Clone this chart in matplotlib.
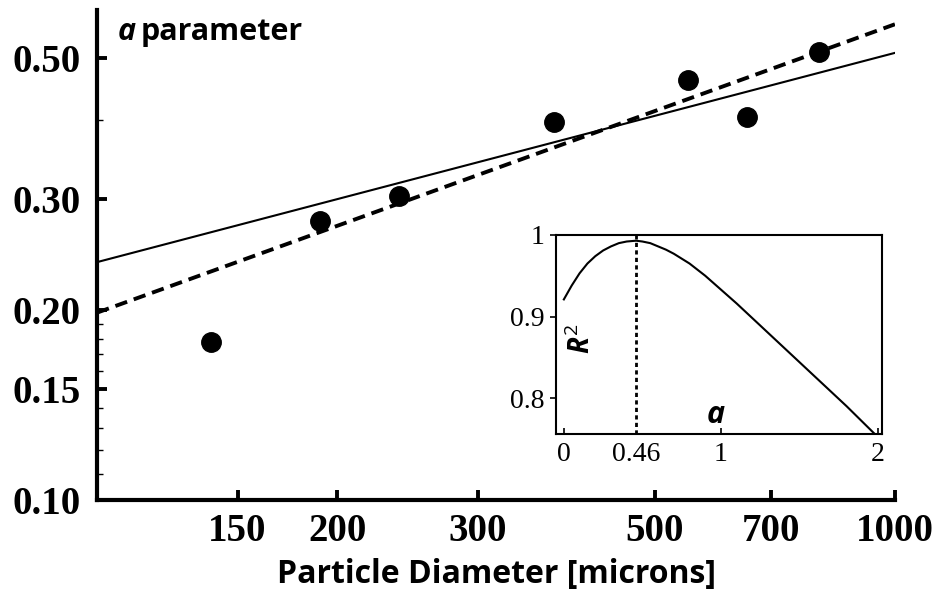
import matplotlib.pyplot as plt

# measured points (particle diameter vs a parameter)
diameter = [139, 190, 239, 374, 550, 652, 803]
a_param = [0.178, 0.276, 0.303, 0.396, 0.462, 0.404, 0.512]

# fitted lines, read at the two ends of the axis
fit_x = [100, 1000]
solid_fit = [0.238, 0.510]
dashed_fit = [0.198, 0.566]

xticks = [150, 200, 300, 500, 700, 1000]
xtick_labels = ["150", "200", "300", "500", "700", "1000"]
yticks = [0.10, 0.15, 0.20, 0.30, 0.50]
ytick_labels = ["0.10", "0.15", "0.20", "0.30", "0.50"]
yminor = [0.11, 0.12, 0.13, 0.14, 0.16, 0.17, 0.18, 0.19, 0.4]

# inset: R^2 vs a
alpha_vals = [0.0, 0.05, 0.1, 0.15, 0.2, 0.25, 0.3, 0.35, 0.4, 0.46, 0.5,
              0.55, 0.6, 0.65, 0.7, 0.8, 0.9, 1.0, 1.1, 1.2, 1.3, 1.4, 1.5,
              1.6, 1.7, 1.8, 1.9, 2.0]
r2_vals = [0.921, 0.938, 0.953, 0.965, 0.974, 0.981, 0.986, 0.990, 0.992,
           0.993, 0.992, 0.990, 0.986, 0.982, 0.977, 0.965, 0.950, 0.933,
           0.916, 0.898, 0.880, 0.862, 0.844, 0.826, 0.808, 0.790, 0.771,
           0.752]
alpha_best = 0.46
inset_xticks = [0, 0.46, 1, 2]
inset_xtick_labels = ["0", "0.46", "1", "2"]
inset_yticks = [0.8, 0.9, 1.0]
inset_ytick_labels = ["0.8", "0.9", "1"]

serif = "Liberation Serif"
sans = "Open Sans"

plt.rcParams["mathtext.fontset"] = "custom"
plt.rcParams["mathtext.it"] = "Open Sans:italic:bold"
plt.rcParams["mathtext.rm"] = "Open Sans"

fig = plt.figure(figsize=(9.43, 5.94), dpi=100)
ax = fig.add_axes([0.103, 0.158, 0.846, 0.825])

ax.plot(fit_x, solid_fit, color="black", lw=1.5)
ax.plot(fit_x, dashed_fit, color="black", lw=2.8, dashes=(3.2, 1.8))
ax.plot(diameter, a_param, "o", color="black", markersize=14, zorder=5)

ax.set_xscale("log")
ax.set_yscale("log")
ax.set_xlim(100, 1000)
ax.set_ylim(0.10, 0.596)

ax.set_xticks(xticks, labels=xtick_labels)
ax.set_xticks([], minor=True)
ax.set_yticks(yticks, labels=ytick_labels)
ax.set_yticks(yminor, minor=True)
ax.yaxis.set_minor_formatter(plt.NullFormatter())

for lab in ax.get_xticklabels() + ax.get_yticklabels():
    lab.set_fontfamily(serif)
    lab.set_fontweight("bold")
    lab.set_fontsize(28)

ax.tick_params(axis="both", which="major", direction="in", length=7, width=2.8)
ax.tick_params(axis="y", which="major", pad=12)
ax.tick_params(axis="x", which="major", pad=9)
ax.tick_params(axis="y", which="minor", direction="in", length=4, width=1)

for side in ["top", "right"]:
    ax.spines[side].set_visible(False)
for side in ["left", "bottom"]:
    ax.spines[side].set_linewidth(3)

ax.set_xlabel("Particle Diameter [microns]", fontfamily=sans, fontweight="bold",
              fontsize=23, labelpad=6)
ax.text(0.026, 0.955, "a", transform=ax.transAxes, fontfamily=sans,
        fontweight="bold", fontstyle="italic", fontsize=22, va="center")
ax.text(0.055, 0.955, "parameter", transform=ax.transAxes, fontfamily=sans,
        fontweight="bold", fontsize=22, va="center")

# inset
ins = fig.add_axes([0.5896, 0.2694, 0.3457, 0.335])
ins.plot(alpha_vals, r2_vals, color="black", lw=1.5)
ins.axvline(alpha_best, color="black", lw=2, dashes=(1.5, 1.2))
ins.set_xlim(-0.05, 2.025)
ins.set_ylim(0.756, 1.0)
ins.set_xticks(inset_xticks, labels=inset_xtick_labels)
ins.set_yticks(inset_yticks, labels=inset_ytick_labels)
for lab in ins.get_xticklabels() + ins.get_yticklabels():
    lab.set_fontfamily(serif)
    lab.set_fontsize(20)
ins.tick_params(axis="x", direction="in", length=4, width=1.2, pad=6)
ins.tick_params(axis="y", direction="out", length=4, width=1.2, pad=4)
ins.xaxis.get_major_ticks()[1].tick1line.set_visible(False)
for sp in ins.spines.values():
    sp.set_linewidth(1.5)
ins.text(0.077, 0.48, r"$R^2$", transform=ins.transAxes, rotation=90,
         fontsize=20, ha="center", va="center")
ins.text(0.49, 0.095, "a", transform=ins.transAxes, fontfamily=sans,
         fontweight="bold", fontstyle="italic", fontsize=22,
         ha="center", va="center")

fig.savefig("out.png", dpi=100)
